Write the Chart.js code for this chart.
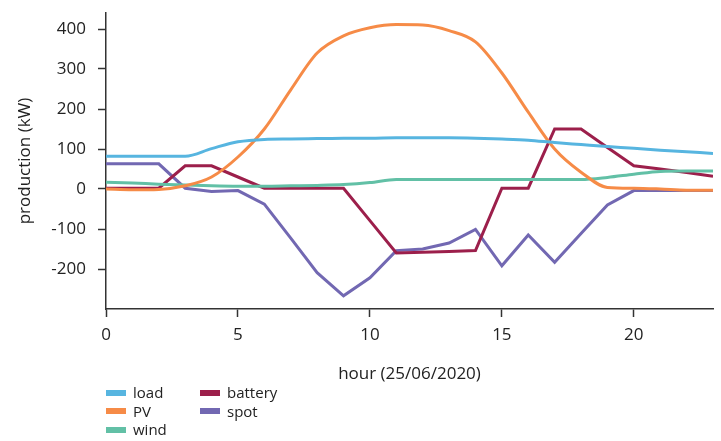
<!DOCTYPE html>
<html>
<head>
<meta charset="utf-8">
<script src="https://cdn.jsdelivr.net/npm/chart.js@4"></script>
<style>
  html, body { margin: 0; padding: 0; background: #fff; }
  #wrap { position: relative; width: 721px; height: 441px; }
  #legend { position: absolute; left: 106px; top: 383px; font: 15px "Open Sans", sans-serif; color: #222; }
  #legend .item { position: absolute; white-space: nowrap; height: 19px; line-height: 19px; }
  #legend .sw { display: inline-block; width: 20px; height: 6px; vertical-align: middle; margin-right: 7px; position: relative; top: -1px; }
</style>
</head>
<body>
<div id="wrap">
  <canvas id="chart" width="721" height="441"></canvas>
  <div id="legend"></div>
</div>
<script>
// hour of day
const hours = [0,1,2,3,4,5,6,7,8,9,10,11,12,13,14,15,16,17,18,19,20,21,22,23];

// production (kW)
const load    = [82,82,82,82,101,118,124,125,126,127,127,128,128,128,127,125,122,116,111,106,102,97,93,89];
const pv      = [0,-2,-1,8,30,80,150,248,340,383,403,411,410,396,368,290,192,100,42,4,2,0,-3,-3];
const wind    = [17,15,12,10,8,7,7,8,9,11,16,24,24,24,24,24,24,24,24,29,37,44,45,45];
const battery = [2,2,2,58,58,30,2,2,2,2,-79,-160,-158,-156,-154,2,2,150,150,104,58,50,41,32];
const spot    = [63,63,63,2,-6,-4,-38,-123,-209,-267,-222,-154,-150,-135,-101,-192,-115,-183,-111,-40,-4,-4,-4,-4];

const xTicks = [0,5,10,15,20];
const yTicks = [-200,-100,0,100,200,300,400];

const series = [
  { label: "load",    data: load,    color: "#57b5e0", smooth: true,  col: 0, row: 0 },
  { label: "PV",      data: pv,      color: "#f68b47", smooth: true,  col: 0, row: 1 },
  { label: "wind",    data: wind,    color: "#62c0a6", smooth: true,  col: 0, row: 2 },
  { label: "battery", data: battery, color: "#9c1f4b", smooth: false, col: 1, row: 0 },
  { label: "spot",    data: spot,    color: "#7268b2", smooth: false, col: 1, row: 1 }
];

const axisColor = "#333";
const font = { family: "'Open Sans', sans-serif", size: 17 };

new Chart(document.getElementById("chart"), {
  type: "line",
  data: {
    labels: hours,
    datasets: series.map(s => ({
      label: s.label,
      data: s.data,
      borderColor: s.color,
      backgroundColor: s.color,
      borderWidth: 3,
      pointRadius: 0,
      fill: false,
      cubicInterpolationMode: s.smooth ? "monotone" : "default",
      tension: 0
    }))
  },
  options: {
    responsive: false,
    animation: false,
    layout: { padding: { top: 13, right: 8, left: 0, bottom: 0 } },
    plugins: { legend: { display: false }, tooltip: { enabled: false } },
    scales: {
      x: {
        type: "linear",
        min: 0,
        max: 23,
        afterFit: s => { s.height = 132; s.paddingLeft = 0; s.paddingRight = 0; },
        afterBuildTicks: s => { s.ticks = xTicks.map(v => ({ value: v })); },
        ticks: { color: "#222", font: font, padding: 8, maxRotation: 0 },
        grid: { drawOnChartArea: false, drawTicks: true, tickLength: 8, tickColor: axisColor, tickWidth: 1.5 },
        border: { display: true, color: axisColor, width: 1.5 },
        title: { display: true, text: "hour (25/06/2020)", color: "#222", font: font, padding: { top: 0, bottom: 57 } }
      },
      y: {
        min: -300,
        max: 440,
        afterFit: s => { s.width = 106; s.paddingTop = 0; s.paddingBottom = 0; },
        afterBuildTicks: s => { s.ticks = yTicks.map(v => ({ value: v })); },
        ticks: { color: "#222", font: font, padding: 12 },
        grid: { drawOnChartArea: false, drawTicks: true, tickLength: 8, tickColor: axisColor, tickWidth: 1.5 },
        border: { display: true, color: axisColor, width: 1.5 },
        title: { display: true, text: "production (kW)", color: "#222", font: font, padding: { top: 15, bottom: 0 } }
      }
    }
  }
});

// legend in two columns, like the original
const legendEl = document.getElementById("legend");
series.forEach(s => {
  const item = document.createElement("div");
  item.className = "item";
  item.style.left = (s.col * 94) + "px";
  item.style.top = (s.row * 18.5) + "px";
  item.innerHTML = '<span class="sw" style="background:' + s.color + '"></span>' + s.label;
  legendEl.appendChild(item);
});
</script>
</body>
</html>
